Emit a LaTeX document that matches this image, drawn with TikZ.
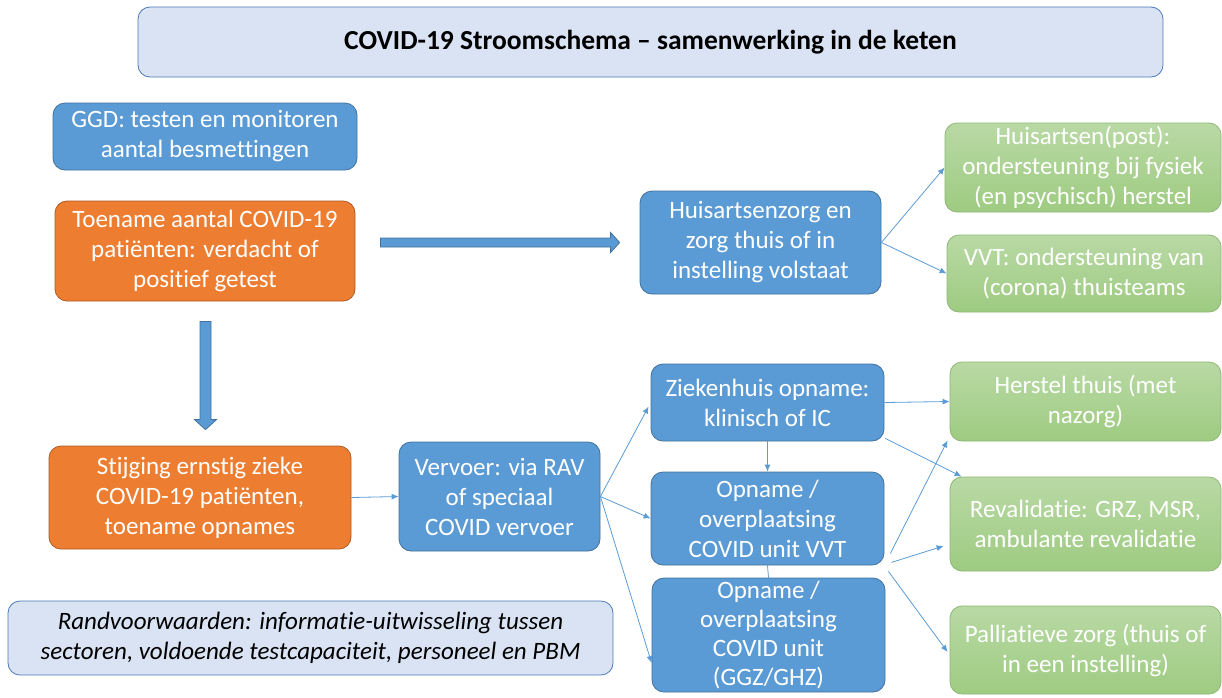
\documentclass[tikz,border=0pt]{standalone}
\usepackage{fontspec}
\setmainfont{Carlito}[Ligatures=NoCommon]
\usetikzlibrary{arrows.meta,calc}
\definecolor{blueF}{HTML}{5B9BD5}
\definecolor{blueD}{HTML}{41719C}
\definecolor{orangeF}{HTML}{ED7D31}
\definecolor{orangeD}{HTML}{AE5A21}
\definecolor{greenT}{HTML}{B9D9A5}
\definecolor{greenB}{HTML}{9ECB81}
\definecolor{greenD}{HTML}{8CB873}
\definecolor{paleF}{HTML}{DAE3F3}
\definecolor{paleD}{HTML}{4A78B8}
\begin{document}
\begin{tikzpicture}[x=1pt,y=-1pt,>={Latex[length=7pt,width=6pt]},
  box/.style={rounded corners=12pt,line width=0.8pt,align=center,inner sep=2pt,text=white,
    font=\fontsize{25}{30}\selectfont},
  bluebox/.style={box,fill=blueF,draw=blueD},
  orangebox/.style={box,fill=orangeF,draw=orangeD},
  greenbox/.style={box,top color=greenT,bottom color=greenB,draw=greenD},
  palebox/.style={box,fill=paleF,draw=paleD,text=black},
  flow/.style={->,draw=blueF,line width=0.8pt},
  bigarrow/.style={fill=blueF,draw=blueD,line width=0.8pt}]
  \useasboundingbox (0,0) rectangle (1222,697);
  \node[palebox,minimum width=1025pt,minimum height=70pt,font=\fontsize{27.5}{30}\selectfont\bfseries] (title) at (650.5,42) {COVID-19 Stroomschema -- samenwerking in de keten};
  \node[bluebox,minimum width=304pt,minimum height=67pt] (ggd) at (205,136.5) {GGD: testen en monitoren\\aantal besmettingen};
  \node[orangebox,minimum width=300pt,minimum height=100pt] (toename) at (205,251) {Toename aantal COVID-19\\patiënten: verdacht of\\positief getest};
  \node[bluebox,minimum width=241pt,minimum height=103pt] (huisarts) at (760.5,242.5) {Huisartsenzorg en\\zorg thuis of in\\instelling volstaat};
  \node[greenbox,minimum width=276pt,minimum height=89pt] (post) at (1083,167.5) {Huisartsen(post):\\ondersteuning bij fysiek\\(en psychisch) herstel};
  \node[greenbox,minimum width=274pt,minimum height=77pt] (thuisteam) at (1084,273.5) {VVT: ondersteuning van\\(corona) thuisteams};
  \node[orangebox,minimum width=302pt,minimum height=103pt] (stijging) at (200,497.5) {Stijging ernstig zieke\\COVID-19 patiënten,\\toename opnames};
  \node[bluebox,minimum width=201pt,minimum height=109pt] (vervoer) at (499.5,496.5) {Vervoer: via RAV\\of speciaal\\COVID vervoer};
  \node[bluebox,minimum width=233pt,minimum height=77pt] (zkh) at (767.5,402.5) {Ziekenhuis opname:\\klinisch of IC};
  \node[bluebox,minimum width=233pt,minimum height=93pt] (opvvt) at (767.5,518.5) {Opname /\\overplaatsing\\COVID unit VVT};
  \node[bluebox,minimum width=233pt,minimum height=114pt,font=\fontsize{25}{29}\selectfont] (opggz) at (768.5,635) {Opname /\\overplaatsing\\COVID unit\\(GGZ/GHZ)};
  \node[greenbox,minimum width=271pt,minimum height=79pt] (herstel) at (1085.5,401.5) {Herstel thuis (met\\nazorg)};
  \node[greenbox,minimum width=271pt,minimum height=94pt] (reval) at (1085.5,524) {Revalidatie: GRZ, MSR,\\ambulante revalidatie};
  \node[greenbox,minimum width=271pt,minimum height=88pt] (pall) at (1085.5,650) {Palliatieve zorg (thuis of\\in een instelling)};
  \node[palebox,minimum width=605pt,minimum height=74pt,font=\fontsize{25}{30}\selectfont\itshape] (rand) at (310.5,638) {Randvoorwaarden: informatie-uitwisseling tussen\\sectoren, voldoende testcapaciteit, personeel en PBM};
  \coordinate (r0) at ($(toename.east |- huisarts.west)+(25,0)$);
  \coordinate (r1) at ($(huisarts.west)+(-20,0)$);
  \coordinate (d0) at ($(toename.south)+(0.5,20)$);
  \coordinate (d1) at ($(toename.south |- stijging.north)+(0.5,-16)$);
  \draw[bigarrow] let \p1=(r0), \p2=(r1) in (\x1,\y1+4.5pt) -- (\x2-9pt,\y1+4.5pt) -- (\x2-9pt,\y1+10pt) -- (\x2,\y2)
    -- (\x2-9pt,\y1-10pt) -- (\x2-9pt,\y1-4.5pt) -- (\x1,\y1-4.5pt) -- cycle;
  \draw[bigarrow] let \p1=(d0), \p2=(d1) in (\x1-5.5pt,\y1) -- (\x1-5.5pt,\y2+10pt) -- (\x1-11pt,\y2+10pt) -- (\x2,\y2)
    -- (\x1+11pt,\y2+10pt) -- (\x1+5.5pt,\y2+10pt) -- (\x1+5.5pt,\y1) -- cycle;
  \draw[flow] (huisarts.east) -- (post.west);
  \draw[flow] (huisarts.east) -- (thuisteam.west);
  \draw[flow] (stijging.east) -- (vervoer.west);
  \draw[flow] (vervoer.east) -- ([shift={(-2,4)}]zkh.west);
  \draw[flow] (vervoer.east) -- (opvvt.west);
  \draw[flow] (vervoer.east) -- ([shift={(0,28)}]opggz.west);
  \draw[flow] (zkh.south) -- (opvvt.north);
  \draw[draw=blueF,line width=0.8pt] (opvvt.south) -- (opggz.north);
  \draw[flow] (zkh.east) -- (herstel.west);
  \draw[flow] ([shift={(1,-3)}]zkh.south east) -- ([shift={(12,0)}]reval.north west);
  \draw[flow] ([shift={(6,-12)}]opvvt.south east) -- ([shift={(-2,-1)}]herstel.south west);
  \draw[flow] ([shift={(7,-3)}]opvvt.south east) -- ([shift={(-6,22)}]reval.west);
  \draw[flow] ([shift={(4,6)}]opvvt.south east) -- ([shift={(-2,2)}]pall.west);
\end{tikzpicture}
\end{document}
